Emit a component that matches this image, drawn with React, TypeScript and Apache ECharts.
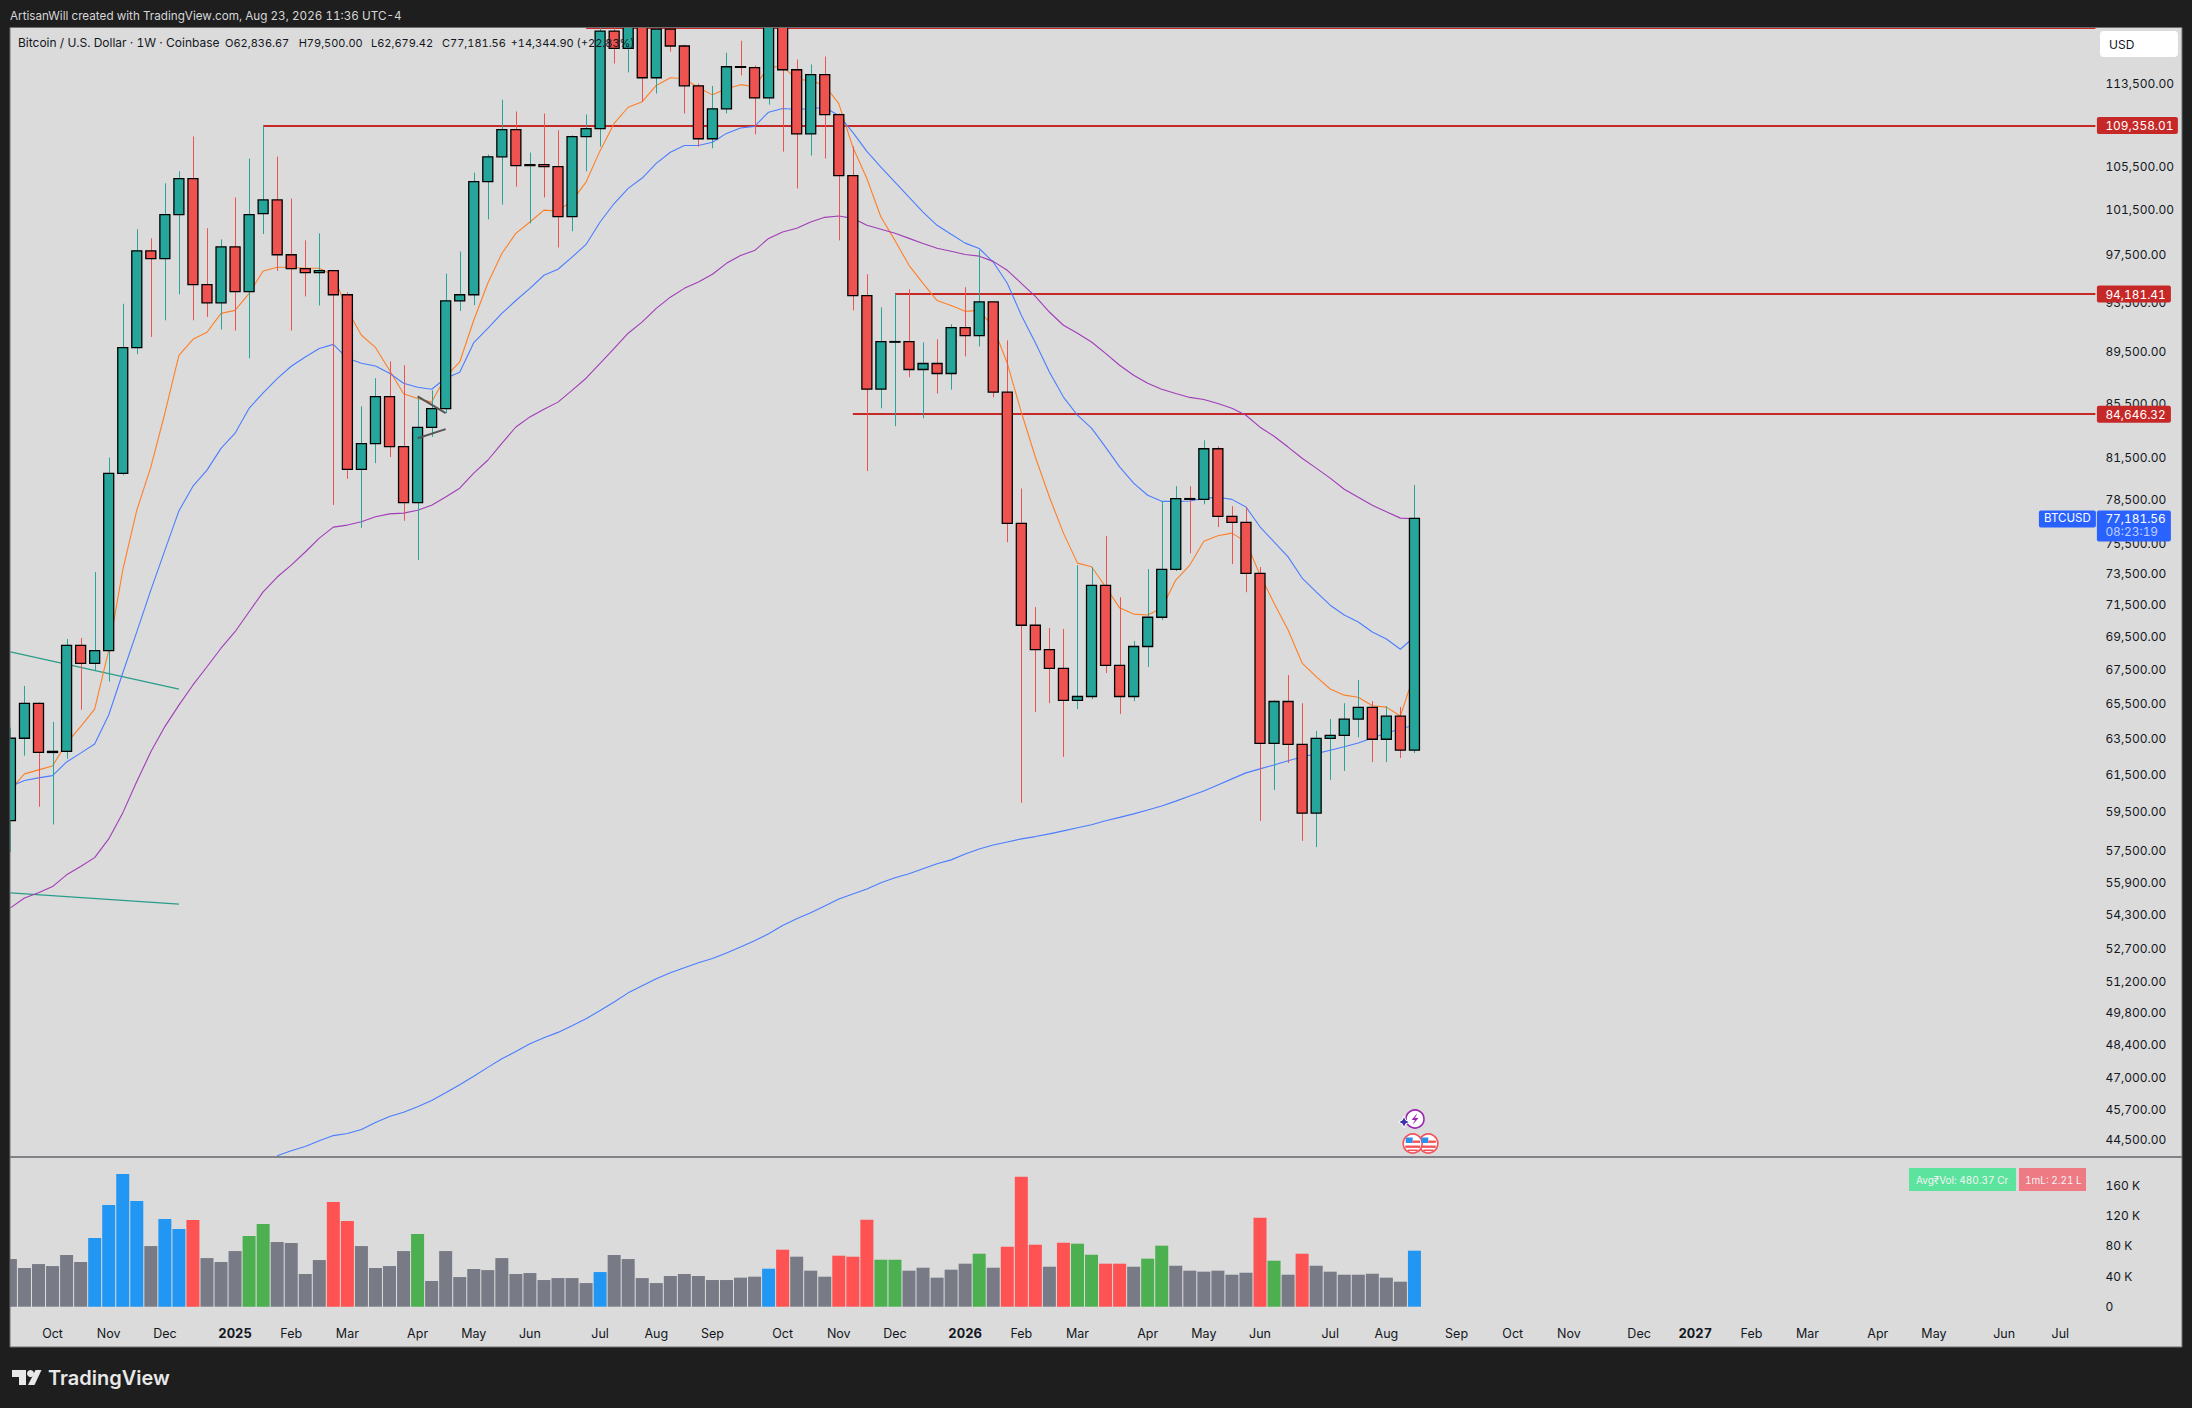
import React, { useEffect, useRef } from "react";
import * as echarts from "echarts";

const opens = [59035,63505,65500,62710,62770,68960,67870,68640,80320,89800,97860,97180,101050,104330,94970,93450,98210,94380,101140,102380,97520,96330,95990,96160,94120,80610,82480,85980,82250,78270,83670,85080,93610,94120,104050,106370,108960,105540,105630,105440,100870,108290,109060,118920,117110,120200,114100,119130,117360,113290,108090,111000,115220,115120,112080,120500,114910,108550,114410,110420,104610,94040,86560,90280,90290,88080,88550,87770,91420,90770,93530,86330,76840,70200,68700,67570,65670,65900,72730,67750,65900,68890,70700,73770,78550,78500,82100,77320,76910,73510,63220,65610,63160,59420,63500,63670,64590,65270,63450,64760,62836.67];
const closes = [63505,65500,62710,62770,68960,67870,68640,80320,89800,97860,97180,101050,104330,94970,93450,98210,94380,101050,102380,97520,96330,95990,96160,94120,80610,82480,85980,82250,78270,83670,85080,93610,94120,104050,106370,108960,105540,105630,105440,100870,108290,109060,118920,117110,120200,114100,119130,117360,113290,108090,111000,115220,115210,112080,120500,114910,108550,114410,110420,104610,94040,86560,90280,90290,88080,88550,87770,91420,90770,93530,86330,76840,70200,68700,67570,65670,65900,72730,67750,65900,68890,70700,73770,78550,78500,82100,77320,76910,73510,63220,65610,63160,59420,63500,63670,64590,65270,63450,64760,62837,77181.56];
const lows = [57420,62530,59760,58830,62360,65130,67470,66780,80200,89290,90660,92010,94150,92010,92280,91260,91180,88960,99330,96130,91180,93980,93230,78110,79940,76540,81060,81500,77020,74390,82970,84730,92770,93260,100630,101960,103600,100280,102600,98150,99570,105010,107340,115550,114640,111700,112510,116770,110540,107340,107180,110540,114340,108510,111410,106860,103430,106490,106210,98770,92830,80490,85100,83760,87480,84360,86220,86520,89110,89900,85930,75570,59970,65000,65510,62460,65170,65740,67290,64890,65630,67650,70530,73660,74830,78150,76590,74120,72290,59020,60660,62130,57980,57660,61200,61690,63560,62180,62180,62400,62679.42];
const highs = [64110,66520,65550,64430,69350,69410,73600,81460,93370,99750,98950,103900,105010,108310,99840,98860,102600,106210,109358,106400,102500,98770,99390,96160,94320,85250,87400,88720,88410,85950,86470,95900,97800,104890,106580,111900,110740,106770,110540,108900,108410,110450,120500,120600,121000,121500,119400,119130,117490,113500,113270,116670,117910,115350,122000,122000,115960,115450,116260,110540,107340,95850,93070,94181,94580,90230,90470,91690,94750,97880,93530,90390,79260,71340,70030,69970,74050,73920,75980,71970,69220,73790,78360,79420,79420,82720,82280,78020,77950,73920,65680,67170,65510,63920,64600,65510,66880,65630,65340,65290,79500];

const emaOrange = [60658,61530,61748,61966,63237,64165,65172,68661,73725,77745,80770,84728,89190,90471,91040,92580,92826,94232,96125,96439,96439,96354,96354,95760,92826,90800,89822,88024,86200,85850,85570,87500,88670,92014,95080,97627,99391,100393,101458,101369,102318,104016,106955,109573,111153,111705,113321,114102,114000,113087,112380,113000,113403,113200,115177,115248,113930,113830,113321,111510,107275,104346,100837,98769,96609,95080,93638,93232,92745,92826,91470,88568,84800,81503,78660,76180,74180,73940,72640,71294,70900,70840,71275,73075,74050,75637,76000,76180,75590,73400,71590,69905,67887,67070,66340,65980,65860,65360,65285,64773,67270];
const emaBlue = [60838,61165,61312,61436,62183,62673,63178,64830,67292,69790,72423,75025,77697,79420,80557,82128,83240,85100,86277,87369,88335,89058,89740,90065,88956,88568,88358,87791,87015,86700,86550,87400,87870,90200,91360,92580,93638,94657,95760,96270,97313,98414,100393,102052,103431,104387,105750,106800,107440,107440,107760,108604,109120,109283,110668,111027,110930,111027,111124,110348,108700,106890,105407,104016,102624,101280,100100,99302,98530,98060,96889,95080,92420,90200,87892,85950,84580,83613,82224,80790,79634,78780,78357,78357,78380,78567,78640,78496,77970,76610,75590,74590,73205,72313,71462,70840,70405,69783,69348,68723,69490];
const maPurple = [54632,55112,55376,55675,56260,56674,57123,58080,59436,61110,62744,64166,65400,66580,67666,68785,69800,71045,72313,73270,74050,74915,75841,76589,76725,76950,77290,77493,77541,77745,78085,78660,79277,80344,81268,82499,83700,84453,85025,85568,86470,87402,88568,89740,90962,91876,92988,93918,94656,95190,95845,96778,97457,97882,98946,99505,99835,100393,100810,100925,100721,100100,99746,99391,98946,98503,98086,97822,97542,97398,96948,96184,95080,93978,92688,91608,90962,90255,89345,88413,87635,87015,86550,86222,85926,85772,85470,85100,84580,83687,83018,82224,81410,80700,79990,79207,78640,78085,77630,77200,77155];
const maLongHidden = [null,null,null,null,null,null,null,null,null,null,null,null,null,null,null,null,null,null,null];
const maLongVisible = [43845,44040,44212,44440,44640,44720,44880,45160,45400,45570,45797,46050,46370,46700,47050,47425,47790,48094,48427,48690,48920,49210,49515,49880,50260,50666,50985,51305,51580,51810,52036,52232,52490,52770,53058,53390,53790,54110,54395,54728,55064,55313,55560,55860,56110,56310,56560,56810,57010,57307,57559,57768,57924,58080,58200,58340,58497,58654,58810,59020,59200,59384,59592,59800,60060,60330,60604,60930,61257,61584,61802,62020,62254,62455,62646,62837,63025,63235,63520,63805,64033,64260];

const volumes = [62700,50900,56100,53500,68000,58800,90400,133800,174600,139000,79800,115400,102200,114000,64000,58800,73200,93000,108800,85100,83800,43000,61400,137700,112700,79800,50900,53500,73200,95600,33800,73200,39000,49600,48200,64000,43000,44300,35100,37700,37700,31100,45600,68000,62700,37700,31100,40400,43000,40400,35100,35100,38200,39500,50000,75000,65800,47400,39500,67100,65800,114500,61800,61800,47400,51300,38200,48700,56600,69700,51300,78900,171000,81600,52600,84200,82900,68400,56600,56600,52600,63200,80300,53900,47400,46100,47400,42100,44700,117100,60500,42100,69700,53900,46100,42100,42100,43400,38200,32900,73700];
const volumeKinds = "nnnnnnbbbbnbbrnnnggnnnnrrnnnngnnnnnnnnnnnnbnnnnnnnnnnnbrnnnrrrggnnnnngnrrrnrggrrnggnnnnnnrgnrnnnnnnnb";

const priceTicks = [113500,109500,105500,101500,97500,93500,89500,85500,81500,78500,75500,73500,71500,69500,67500,65500,63500,61500,59500,57500,55900,54300,52700,51200,49800,48400,47000,45700,44500];
const levelStarts = [41,18,63,60];
const levelPrices = [119230,109358.01,94181.41,84646.32];
const levelLabels = ["","109,358.01","94,181.41","84,646.32"];
const tealStart = [[0,68560],[0,55361]];
const tealEnd = [[12,66340],[12,54820]];
const drawStart = [[29,86010],[29.3,82870]];
const drawEnd = [[31,84730],[31,83540]];

const tickIndexes = [3,7,11,16,20,24,29,33,37,42,46,50,55,59,63,68,72,76,81,85,89,94,98,103,107,111,116,120,124,128,133,137,142,146];
const tickLabels = ["Oct","Nov","Dec","2025","Feb","Mar","Apr","May","Jun","Jul","Aug","Sep","Oct","Nov","Dec","2026","Feb","Mar","Apr","May","Jun","Jul","Aug","Sep","Oct","Nov","Dec","2027","Feb","Mar","Apr","May","Jun","Jul"];

const SLOT_COUNT = 149;
const FONT = "Inter";
const UP = "#26a69a";
const DOWN = "#ef5350";
const INK = "#131722";
const SCALE_SIZE = 12;
const kindColor: Record<string, string> = { n: "#787b86", b: "#2196f3", g: "#4caf50", r: "#ff5252" };
const fmt = (v: number) => v.toLocaleString("en-US", { minimumFractionDigits: 2, maximumFractionDigits: 2 });

function txt(x: number, y: number, text: string, fill: string, fontSize = 12.5, align = "left", fontWeight: any = 400, z = 110) {
  return { type: "text", z, x, y, style: { text, fill, fontSize, fontFamily: FONT, fontWeight, align, verticalAlign: "middle" } };
}

function flag(cx: number, cy: number) {
  return [
    { type: "circle", z: 60, shape: { cx, cy, r: 9.5 }, style: { fill: "#ffffff", stroke: "#f2545b", lineWidth: 1.6 } },
    { type: "rect", z: 61, shape: { x: cx - 7, y: cy - 6, width: 7, height: 5.5 }, style: { fill: "#2f8ee8" } },
    { type: "rect", z: 61, shape: { x: cx, y: cy - 3, width: 7.5, height: 2.4 }, style: { fill: "#f2545b" } },
    { type: "rect", z: 61, shape: { x: cx - 7.5, y: cy + 2, width: 15, height: 2.4 }, style: { fill: "#f2545b" } },
    { type: "rect", z: 61, shape: { x: cx - 5, y: cy + 6, width: 10, height: 1.6 }, style: { fill: "#f2545b" } },
  ];
}

export default function App() {
  const ref = useRef<HTMLDivElement>(null);
  useEffect(() => {
    document.body.style.margin = "0";
    document.body.style.background = "#1e1e1e";
    const css = document.createElement("style");
    css.textContent = "svg text { font-variant-numeric: tabular-nums; }";
    document.head.appendChild(css);
    const chart = echarts.init(ref.current!, undefined, { renderer: "svg" });
    const slots = Array.from({ length: SLOT_COUNT }, (_, i) => String(i));
    const candleRows = opens.map((o, i) => [i, o, closes[i], lows[i], highs[i]]);
    const line = (name: string, data: any[], color: string) => ({
      name, type: "line", data, xAxisIndex: 0, yAxisIndex: 0, showSymbol: false, symbol: "none", z: 3, silent: true,
      lineStyle: { color, width: 1.1 }, clip: true,
    });
    chart.setOption({
      animation: false,
      backgroundColor: "#1e1e1e",
      tooltip: { show: false },
      grid: [
        { left: 3.4, top: 27.7, width: 2092, height: 1129.3 },
        { left: 3.4, top: 1157, width: 2092, height: 149.7 },
      ],
      xAxis: [
        { type: "category", gridIndex: 0, data: slots, show: false, boundaryGap: true },
        {
          type: "category", gridIndex: 1, data: slots, boundaryGap: true,
          axisLine: { show: false }, axisTick: { show: false }, splitLine: { show: false },
          axisLabel: {
            margin: 20,
            interval: (i: number) => tickIndexes.includes(i),
            formatter: (_: string, i: number) => {
              const l = tickLabels[tickIndexes.indexOf(i)] ?? "";
              return /^\d{4}$/.test(l) ? `{y|${l}}` : l;
            },
            color: INK, fontFamily: FONT, fontSize: 12.5,
            rich: { y: { fontWeight: 700, fontFamily: FONT, fontSize: 13, color: INK } },
          },
        },
      ],
      yAxis: [
        { type: "log", logBase: Math.E, gridIndex: 0, min: 43800, max: 119280, show: false, splitLine: { show: false } },
        {
          type: "value", gridIndex: 1, min: 0, max: 197000, interval: 40000, position: "right",
          axisLine: { show: false }, axisTick: { show: false }, splitLine: { show: false },
          axisLabel: {
            margin: 10, showMaxLabel: false, align: "left", color: INK, fontFamily: FONT, fontSize: SCALE_SIZE,
            formatter: (v: number) => (v === 0 ? "0" : `${v / 1000} K`),
          },
        },
      ],
      series: [
        {
          name: "Levels", type: "custom", xAxisIndex: 0, yAxisIndex: 0, z: 2, silent: true, clip: true,
          data: levelStarts.map((s, i) => [s, levelPrices[i]]), encode: { x: 0, y: 1 },
          renderItem: (params: any, api: any) => {
            const p = api.coord([api.value(0), api.value(1)]);
            const cs = params.coordSys;
            const y = Math.round(p[1]);
            return { type: "line", shape: { x1: p[0], y1: y, x2: cs.x + cs.width, y2: y }, style: { stroke: "#c62828", lineWidth: 2.2 } };
          },
        },
        {
          name: "Trend lines", type: "custom", xAxisIndex: 0, yAxisIndex: 0, z: 2, silent: true, clip: true,
          data: tealStart.map((s, i) => [s[0], s[1], tealEnd[i][0], tealEnd[i][1]]), encode: { x: [0, 2], y: [1, 3] },
          renderItem: (_: any, api: any) => {
            const a = api.coord([api.value(0), api.value(1)]);
            const b = api.coord([api.value(2), api.value(3)]);
            return { type: "line", shape: { x1: a[0], y1: a[1], x2: b[0], y2: b[1] }, style: { stroke: "#2a9d8a", lineWidth: 1.3 } };
          },
        },
        line("EMA fast", emaOrange, "#ff7f27"),
        line("EMA slow", emaBlue, "#4a7dff"),
        line("MA", maPurple, "#a23db8"),
        line("MA long", [...maLongHidden, ...maLongVisible], "#4a7dff"),
        {
          name: "BTCUSD", type: "custom", xAxisIndex: 0, yAxisIndex: 0, z: 6, silent: true, clip: true,
          data: candleRows, encode: { x: 0, y: [1, 2, 3, 4] },
          renderItem: (_: any, api: any) => {
            const i = api.value(0), o = api.value(1), c = api.value(2), l = api.value(3), h = api.value(4);
            const x = api.coord([i, o])[0];
            const yo = api.coord([i, o])[1], yc = api.coord([i, c])[1], yl = api.coord([i, l])[1], yh = api.coord([i, h])[1];
            const wx = Math.round(x) + 0.5;
            const top = Math.min(yo, yc), bot = Math.max(yo, yc);
            return {
              type: "group",
              children: [
                { type: "line", shape: { x1: wx, y1: yh, x2: wx, y2: yl }, style: { stroke: c >= o ? UP : DOWN, lineWidth: 1 } },
                { type: "rect", shape: { x: x - 5, y: top, width: 10, height: Math.max(bot - top, 0.6) }, style: { fill: c >= o ? UP : DOWN, stroke: "#000000", lineWidth: 1.3 } },
              ],
            };
          },
        },
        {
          name: "Drawings", type: "custom", xAxisIndex: 0, yAxisIndex: 0, z: 7, silent: true, clip: true,
          data: drawStart.map((s, i) => [s[0], s[1], drawEnd[i][0], drawEnd[i][1]]), encode: { x: [0, 2], y: [1, 3] },
          renderItem: (params: any, api: any) => {
            const idx = params.dataIndex;
            const p = api.coord([drawStart[idx][0], drawStart[idx][1]]);
            const q = api.coord([drawEnd[idx][0], drawEnd[idx][1]]);
            return { type: "line", shape: { x1: p[0], y1: p[1], x2: q[0], y2: q[1] }, style: { stroke: "#555555", lineWidth: 2 } };
          },
        },
        {
          name: "Price scale", type: "custom", xAxisIndex: 0, yAxisIndex: 0, z: 8, silent: true, clip: false,
          data: priceTicks.map((p) => [0, p]), encode: { x: 0, y: 1 },
          renderItem: (params: any, api: any) => {
            const y = api.coord([0, api.value(1)])[1];
            const cs = params.coordSys;
            return { type: "text", x: cs.x + cs.width + 10, y, style: { text: fmt(api.value(1)), fill: INK, fontSize: SCALE_SIZE, fontFamily: FONT, align: "left", verticalAlign: "middle" } };
          },
        },
        {
          name: "Level tags", type: "custom", xAxisIndex: 0, yAxisIndex: 0, z: 9, silent: true, clip: false,
          data: levelStarts.map((s, i) => [s, levelPrices[i]]).slice(1), encode: { x: 0, y: 1 },
          renderItem: (params: any, api: any) => {
            const y = api.coord([0, api.value(1)])[1];
            const cs = params.coordSys;
            const label = levelLabels[params.dataIndex + 1];
            const x0 = cs.x + cs.width + 1.5;
            return {
              type: "group",
              children: [
                { type: "rect", shape: { x: x0, y: y - 8.5, width: label.length > 9 ? 81 : 74, height: 17, r: 2 }, style: { fill: "#c62828" } },
                { type: "text", x: x0 + 8.5, y, style: { text: label, fill: "#ffffff", fontSize: 11.9, fontFamily: FONT, align: "left", verticalAlign: "middle" } },
              ],
            };
          },
        },
        {
          name: "Last price", type: "custom", xAxisIndex: 0, yAxisIndex: 0, z: 9, silent: true, clip: false,
          data: [[100, closes[100]]], encode: { x: 0, y: 1 },
          renderItem: (params: any, api: any) => {
            const y = api.coord([0, api.value(1)])[1];
            const cs = params.coordSys;
            const x0 = cs.x + cs.width + 1.5;
            return {
              type: "group",
              children: [
                { type: "rect", shape: { x: x0 - 58, y: y - 8, width: 57, height: 17, r: 2 }, style: { fill: "#2962ff" } },
                { type: "text", x: x0 - 29.5, y, style: { text: "BTCUSD", fill: "#ffffff", fontSize: 11.5, fontFamily: FONT, align: "center", verticalAlign: "middle" } },
                { type: "rect", shape: { x: x0, y: y - 8, width: 74, height: 31, r: 2 }, style: { fill: "#2962ff" } },
                { type: "text", x: x0 + 8.5, y, style: { text: fmt(api.value(1)), fill: "#ffffff", fontSize: 11.9, fontFamily: FONT, align: "left", verticalAlign: "middle" } },
                { type: "text", x: x0 + 8.5, y: y + 13.5, style: { text: "08:23:19", fill: "#bcd0ff", fontSize: 11.9, fontFamily: FONT, align: "left", verticalAlign: "middle" } },
              ],
            };
          },
        },
        {
          name: "Volume", type: "bar", xAxisIndex: 1, yAxisIndex: 1, barWidth: 13, z: 3, silent: true,
          data: volumes.map((v, i) => ({ value: v, itemStyle: { color: kindColor[volumeKinds[i]] } })),
        },
      ],
      graphic: [
        { type: "rect", z: -10, shape: { x: 10, y: 27, width: 2172, height: 1320 }, style: { fill: "#dbdbdb" } },
        { type: "rect", z: 100, shape: { x: 0, y: 0, width: 10, height: 1408 }, style: { fill: "#1e1e1e" } },
        { type: "rect", z: 100, shape: { x: 0, y: 0, width: 2192, height: 27 }, style: { fill: "#1e1e1e" } },
        { type: "rect", z: 100, shape: { x: 2182, y: 0, width: 10, height: 1408 }, style: { fill: "#1e1e1e" } },
        { type: "rect", z: 100, shape: { x: 0, y: 1347, width: 2192, height: 61 }, style: { fill: "#1e1e1e" } },
        { type: "rect", z: 101, shape: { x: 10, y: 27.5, width: 2172, height: 1319.5 }, style: { fill: "none", stroke: "#6e6e6e", lineWidth: 1 } },
        { type: "line", z: 55, shape: { x1: 10, y1: 1157, x2: 2182, y2: 1157 }, style: { stroke: "#2a2e39", lineWidth: 1.2 } },
        txt(10, 15.5, "ArtisanWill created with TradingView.com, Aug 23, 2026 11:36 UTC-4", "#d6d6d6", 11.7),
        txt(18, 42.5, "Bitcoin / U.S. Dollar · 1W · Coinbase", INK, 12),
        txt(225, 42.5, "O62,836.67", INK, 11),
        txt(298.7, 42.5, "H79,500.00", INK, 11),
        txt(371, 42.5, "L62,679.42", INK, 11),
        txt(442, 42.5, "C77,181.56", INK, 11),
        txt(510.7, 42.5, "+14,344.90 (+22.83%)", INK, 11),
        { type: "rect", z: 60, shape: { x: 2100, y: 31, width: 78, height: 26, r: 4 }, style: { fill: "#ffffff" } },
        txt(2109, 44, "USD", INK, 12),
        { type: "rect", z: 60, shape: { x: 1909, y: 1168, width: 107, height: 23 }, style: { fill: "#5ce39e" } },
        txt(1916, 1179.5, "Avg₹Vol: 480.37 Cr", "#f4f4f4", 10),
        { type: "rect", z: 60, shape: { x: 2019, y: 1168, width: 67, height: 23 }, style: { fill: "#ee7a84" } },
        txt(2025, 1179.5, "1mL: 2.21 L", "#f4f4f4", 10),
        { type: "circle", z: 60, shape: { cx: 1415, cy: 1119, r: 9 }, style: { fill: "#ffffff", stroke: "#9c27b0", lineWidth: 1.6 } },
        { type: "polygon", z: 61, shape: { points: [[1417.5,1113],[1411.5,1120],[1415,1120],[1412.5,1125],[1418.5,1118],[1415,1118]] }, style: { fill: "#9c27b0" } },
        { type: "polygon", z: 61, shape: { points: [[1404,1116],[1405.8,1120.2],[1410,1122],[1405.8,1123.8],[1404,1128],[1402.2,1123.8],[1398,1122],[1402.2,1120.2]] }, style: { fill: "#3f2fb5", stroke: "#ffffff", lineWidth: 1 } },
        ...flag(1428.3, 1143.5),
        ...flag(1412.7, 1143.5),
        { type: "polygon", z: 105, shape: { points: [[12,1370],[26,1370],[26,1385],[19,1385],[19,1377],[12,1377]] }, style: { fill: "#e8e8e8" } },
        { type: "circle", z: 105, shape: { cx: 30.5, cy: 1373.5, r: 3.5 }, style: { fill: "#e8e8e8" } },
        { type: "polygon", z: 105, shape: { points: [[35.5,1370],[41.5,1370],[34.5,1385],[28,1385]] }, style: { fill: "#e8e8e8" } },
        txt(48, 1378, "TradingView", "#e8e8e8", 20, "left", 600),
      ],
    });
    return () => { chart.dispose(); css.remove(); };
  }, []);
  return <div ref={ref} style={{ width: 2192, height: 1408, position: "fixed", left: 0, top: 0 }} />;
}
